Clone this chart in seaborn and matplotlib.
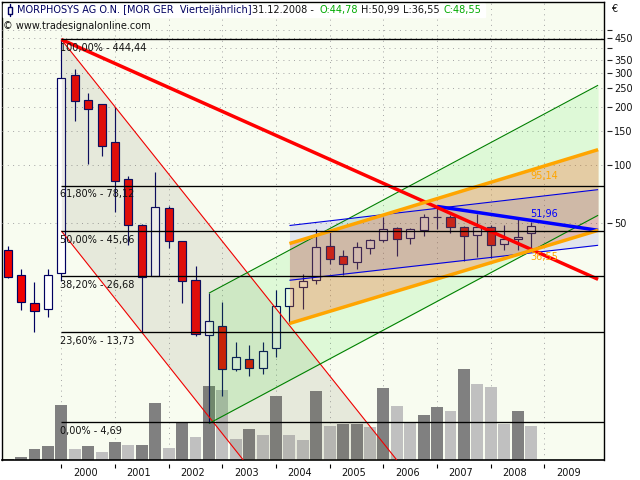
"""Quarterly candlestick chart of Morphosys with fibonacci levels and channels."""

import matplotlib

matplotlib.use("Agg")
import matplotlib.pyplot as plt
import numpy as np
import pandas as pd
import seaborn as sns
from matplotlib.ticker import NullLocator

quarters = list(range(-4, 36))
opens = [36.2, 27.0, 19.5, 18.15, 27.8, 293, 217.5, 207.4, 131.5, 85, 49.2, 26.85, 60.2, 40.7, 25.6, 13.3,
         14.74, 8.89, 10.0, 9.0, 11.4, 18.8, 23.4, 25.6, 38.35, 34.05, 31.4, 37.4, 41.2, 47.3, 42.2, 46.2,
         53.8, 54.1, 48.1, 43.5, 47.9, 39.1, 41.5, 44.78]
closes = [26.5, 19.7, 17.7, 27.0, 282.5, 215, 195.4, 125.9, 83.1, 49.2, 26.3, 60.9, 40.7, 25.3, 13.48, 15.7,
          8.89, 10.15, 9.0, 11.0, 18.8, 23.3, 25.3, 37.9, 32.8, 31.0, 37.9, 41.2, 47.0, 41.7, 47.0, 54.1,
          54.1, 47.9, 43.0, 48.1, 38.8, 41.7, 42.4, 48.55]
highs = [38.2, 29.0, 25.0, 29.0, 444.44, 314, 236, 207.4, 199, 87.4, 49.6, 91.7, 61.7, 40.7, 30.0, 21.8,
         19.55, 12.15, 11.73, 12.15, 22.7, 23.3, 27.3, 46.6, 45.1, 36.5, 40.2, 41.7, 53.8, 47.9, 47.3, 56.1,
         61.1, 55, 48.3, 55.6, 48.8, 48.8, 52.8, 50.99]
lows = [26.1, 17.85, 13.75, 16.4, 25.2, 168.7, 101.2, 111.2, 57.2, 38.8, 13.64, 26.8, 37.2, 19.4, 13.1, 4.63,
        6.42, 8.65, 8.12, 8.31, 10.15, 15.23, 18.05, 24.2, 30.8, 27.0, 29.0, 34.7, 39.9, 33.9, 39.1, 43.0,
        46.6, 44.6, 32.1, 33.4, 33.1, 36.5, 36.2, 36.55]
volumes = [1, 3, 11, 14, 55, 11, 14, 8, 18, 15, 15, 57, 12, 38, 23, 74, 70, 21, 31, 25,
           64, 25, 20, 69, 34, 36, 36, 33, 72, 54, 37, 45, 53, 49, 91, 76, 73, 36, 49, 34]
volume_kind = list("ddddd" "ldldl" "ddldl" "dlldl" "dlldl" "ddldl" "lddld" "llldl")

fib_levels = [444.44, 78.12, 45.66, 26.68, 13.73, 4.69]
fib_labels = ["100,00% - 444,44", "61,80% - 78,12", "50,00% - 45,66", "38,20% - 26,68", "23,60% - 13,73", "0,00% - 4,69"]

years = list(range(2000, 2010))
year_quarters = [0, 4, 8, 12, 16, 20, 24, 28, 32, 36]
price_ticks = [50, 100, 150, 200, 250, 300, 350, 400, 450, 500]
price_tick_labels = ["50", "100", "150", "200", "250", "300", "350", "", "450", ""]

trend_x = [0, 40]
trend_red = [444.44, 25.7]

fan_upper_x = [0, 25]
fan_upper = [444.44, 3.0]
fan_lower_x = [0, 13.56]
fan_lower = [45.66, 3.0]
fan_fill_x = [0, 13.56, 25]
fan_fill_top = [444.44, 29.45, 3.0]
fan_fill_bottom = [45.66, 3.0, 3.0]

green_x = [11, 40]
green_upper = [21.8, 258]
green_lower = [4.63, 55]
channel_x = [17, 40]
orange_upper = [39.3, 120]
orange_lower = [15.2, 46]
blue_upper = [48.7, 74.6]
blue_lower = [25.4, 38.5]
blue_trend_x = [28, 40]
blue_trend = [61.1, 46.0]

BACKGROUND = "#F8FCF0"
NAVY = "#000060"
GRID = "#A8A8A8"
PX = 0.72
FONT_SIZE = 7.0


def fig_text(fig, x, y, text, **kwargs):
    """Text placed with screen pixels of the 640x480 picture."""
    kwargs.setdefault("fontsize", FONT_SIZE)
    kwargs.setdefault("va", "center")
    return fig.text(x / 640, 1 - y / 480, text, **kwargs)


def draw_line(ax, x, y, color, width, zorder):
    sns.lineplot(x=x, y=y, color=color, linewidth=width, estimator=None, sort=False,
                 solid_capstyle="butt", zorder=zorder, ax=ax, legend=False)


def draw_volume(ax):
    volume_table = pd.DataFrame({"quarter": quarters, "volume": volumes, "kind": volume_kind})
    sns.barplot(data=volume_table, x="quarter", y="volume", hue="kind", palette={"d": "#808080", "l": "#C0C0C0"},
                native_scale=True, dodge=False, width=0.89, saturation=1, linewidth=0, legend=False, ax=ax)
    ax.set_ylim(0, 458)
    ax.set_xlabel("")
    ax.set_ylabel("")
    ax.set_yticks([])
    ax.set_facecolor(BACKGROUND)
    ax.set_axisbelow(True)
    ax.set_xticks(year_quarters)
    ax.set_xticklabels([])
    ax.set_xticks(np.array(year_quarters) + 1.77, labels=years, minor=True)
    ax.tick_params(axis="x", which="major", bottom=True, length=4 * PX, width=0.8, color="black")
    ax.tick_params(axis="x", which="minor", bottom=False, length=0, pad=3, labelsize=FONT_SIZE, labelcolor="#111111")
    ax.grid(axis="x", which="major", color=GRID, linestyle=(0, (1, 4.3)), linewidth=PX)
    ax.spines["bottom"].set_position(("outward", 4 * PX))
    ax.spines["bottom"].set_color("none")
    for side in ["left", "top", "right"]:
        ax.spines[side].set_color("black")
        ax.spines[side].set_linewidth(1.0)
    ax.set_xlim(-4.42, 40.44)


def draw_candles(ax):
    for q, o, h, l, c in zip(quarters, opens, highs, lows, closes):
        ax.vlines(q, l, h, color=NAVY, linewidth=0.85, zorder=2)
        body_color = "#F00000" if c < o else "white"
        ax.bar(q, abs(o - c), bottom=min(o, c), width=0.6, color=body_color, edgecolor=NAVY, linewidth=0.85, zorder=2.5)


def draw_channels(ax):
    ax.fill_between(fan_fill_x, fan_fill_bottom, fan_fill_top, color="#707050", alpha=0.13, linewidth=0, zorder=3)
    ax.fill_between(green_x, green_lower, green_upper, color="#00E600", alpha=0.10, linewidth=0, zorder=3.1)
    ax.fill_between(channel_x, orange_lower, orange_upper, color="#F55A20", alpha=0.28, linewidth=0, zorder=3.2)
    ax.fill_between(channel_x, blue_lower, blue_upper, color="#0000C8", alpha=0.09, linewidth=0, zorder=3.3)

    draw_line(ax, fan_upper_x, fan_upper, "#F00000", 0.8, 4)
    draw_line(ax, fan_lower_x, fan_lower, "#F00000", 0.8, 4)
    draw_line(ax, green_x, green_upper, "#008000", 0.8, 4)
    draw_line(ax, green_x, green_lower, "#008000", 0.8, 4)
    draw_line(ax, channel_x, blue_upper, "#0000E0", 0.8, 4)
    draw_line(ax, channel_x, blue_lower, "#0000E0", 0.8, 4)
    draw_line(ax, blue_trend_x, blue_trend, "#0000FF", 2.5, 4.2)
    draw_line(ax, trend_x, trend_red, "#FF0000", 2.5, 4.4)
    draw_line(ax, channel_x, orange_upper, "#FFA500", 2.5, 4.6)
    draw_line(ax, channel_x, orange_lower, "#FFA500", 2.5, 4.6)

    for level in fib_levels:
        ax.hlines(level, 0, 40.44, color="black", linewidth=0.95, zorder=5)


def draw_texts(fig):
    for label, y in zip(fib_labels, [48, 194, 240, 285, 341, 431]):
        fig_text(fig, 60.5, y, label, color="#111111", zorder=10)
    fig_text(fig, 530, 176, "95,14", color="#FFA500")
    fig_text(fig, 530, 214, "51,96", color="#0000FF")
    fig_text(fig, 530, 257, "36,55", color="#FFA500")

    band = plt.Rectangle((3 / 640, 1 - 17 / 480), 482 / 640, 13 / 480, transform=fig.transFigure,
                         color="white", zorder=8)
    fig.add_artist(band)
    fig_text(fig, 17, 10, "MORPHOSYS AG O.N. [MOR GER  Vierteljährlich]", color=NAVY, zorder=10)
    fig_text(fig, 252, 10, "31.12.2008 -", color="#111111", zorder=10)
    fig_text(fig, 320, 10, "O:44,78", color="#00AA00", zorder=10)
    fig_text(fig, 361, 10, "H:50,99", color="#111111", zorder=10)
    fig_text(fig, 403, 10, "L:36,55", color="#111111", zorder=10)
    fig_text(fig, 443, 10, "C:48,55", color="#00AA00", zorder=10)
    fig_text(fig, 3, 26, "© www.tradesignalonline.com", color="#111111", zorder=10)
    fig_text(fig, 611, 9, "€", color="#111111")

    # little candle icon in front of the title
    icon_body = plt.Rectangle((8.3 / 640, 1 - 14 / 480), 4 / 640, 7 / 480, transform=fig.transFigure,
                              facecolor="white", edgecolor=NAVY, linewidth=1.0, zorder=11)
    icon_wick = plt.Line2D([10.3 / 640, 10.3 / 640], [1 - 4 / 480, 1 - 16 / 480], transform=fig.transFigure,
                           color=NAVY, linewidth=1.0, zorder=10)
    fig.add_artist(icon_wick)
    fig.add_artist(icon_body)


def main():
    sns.set_theme(style="white")
    plt.rcParams["font.family"] = ["DejaVu Sans"]

    fig = plt.figure(figsize=(6.4, 4.8), dpi=100, facecolor="white")
    volume_ax = fig.add_axes([2 / 640, 1 - 460 / 480, 602 / 640, 458 / 480])
    draw_volume(volume_ax)

    ax = volume_ax.twinx()
    ax.set_yscale("log")
    draw_candles(ax)
    draw_channels(ax)
    ax.set_ylim(3.0, 694)
    ax.set_xlim(-4.42, 40.44)
    ax.set_yticks(price_ticks, labels=price_tick_labels)
    ax.yaxis.set_minor_locator(NullLocator())
    ax.tick_params(axis="y", which="major", right=True, length=5 * PX, width=0.8, color="#222222", pad=1.5,
                   labelsize=FONT_SIZE, labelcolor="#111111")
    ax.grid(axis="y", which="major", color=GRID, linestyle=(0, (1, 4.3)), linewidth=PX)
    ax.set_axisbelow(True)
    ax.spines["right"].set_position(("outward", 3 * PX))
    ax.spines["right"].set_color("none")
    ax.spines["left"].set_color("none")
    ax.spines["top"].set_color("none")
    ax.spines["bottom"].set_color("black")
    ax.spines["bottom"].set_linewidth(1.2)
    ax.set_xlabel("")
    ax.set_ylabel("")

    draw_texts(fig)
    fig.savefig("out.png", dpi=100)
    plt.close(fig)


if __name__ == "__main__":
    main()
